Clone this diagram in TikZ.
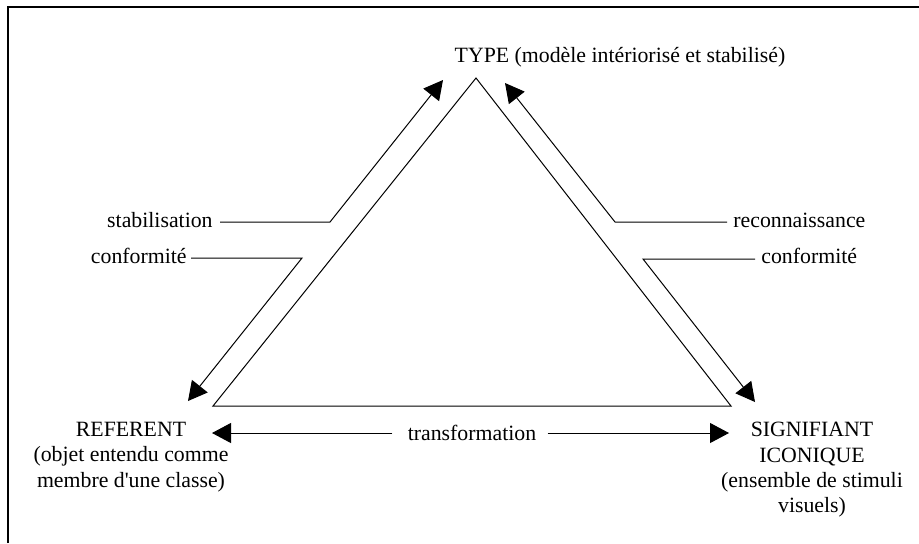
\documentclass[tikz,border=0pt]{standalone}
\usepackage{fontspec}
\setmainfont{Liberation Serif}
\usetikzlibrary{arrows.meta}
\begin{document}
\begin{tikzpicture}[x=0.5pt,y=-0.5pt,
  every node/.style={inner sep=0pt,font=\fontsize{10.9}{12.6}\selectfont},
  thin line/.style={line width=0.5pt},
  frame line/.style={line width=1pt},
  bigtip/.style={-{Triangle[length=9.5pt,width=10pt]}},
  pole text/.style={align=center,anchor=north}]
  \useasboundingbox (0,0) rectangle (919,543);

  % open frame (top and left edges)
  \draw[frame line] (8,543) -- (8,7) -- (919,7);

  % corners of the triangle
  \coordinate (apex) at (476,78);
  \coordinate (bl) at (213,406);
  \coordinate (br) at (731,406);
  \draw[thin line] (bl) -- (apex) -- (br) -- cycle;

  % pole labels
  \node[anchor=base] (type) at (620,62) {TYPE (modèle intériorisé et stabilisé)};
  \node[pole text] (ref) at (131,422) {REFERENT\\(objet entendu comme\\membre d\textquotesingle une classe)};
  \node[pole text] (sig) at (812,422) {SIGNIFIANT\\ICONIQUE\\(ensemble de stimuli\\visuels)};

  % side labels
  \node[anchor=base east] (stab) at (213,227) {stabilisation};
  \node[anchor=base east] (confl) at (187,263) {conformité};
  \node[anchor=base west] (reco) at (733,227) {reconnaissance};
  \node[anchor=base west] (confr) at (761,263) {conformité};
  \node[anchor=base] (trans) at (472,440) {transformation};

  % bends and arrow tips
  \coordinate (stabk) at (330,222);
  \coordinate (stabt) at (443,80);
  \coordinate (conflk) at (302,258);
  \coordinate (conflt) at (188,401);
  \coordinate (recok) at (615,222);
  \coordinate (recot) at (505,83);
  \coordinate (confrk) at (643,259);
  \coordinate (confrt) at (755,402);
  \coordinate (transl) at (212,433);
  \coordinate (transr) at (729,433);

  % leaders with arrows
  \draw[thin line,bigtip] (stab.east |- stabk) ++(7,0) -- (stabk) -- (stabt);
  \draw[thin line,bigtip] (confl.east |- conflk) ++(4,0) -- (conflk) -- (conflt);
  \draw[thin line,bigtip] (reco.west |- recok) ++(-6,0) -- (recok) -- (recot);
  \draw[thin line,bigtip] (confr.west |- confrk) ++(-6,0) -- (confrk) -- (confrt);
  \draw[thin line,bigtip] (trans.west |- transl) ++(-15,0) -- (transl);
  \draw[thin line,bigtip] (trans.east |- transr) ++(11,0) -- (transr);
\end{tikzpicture}
\end{document}
